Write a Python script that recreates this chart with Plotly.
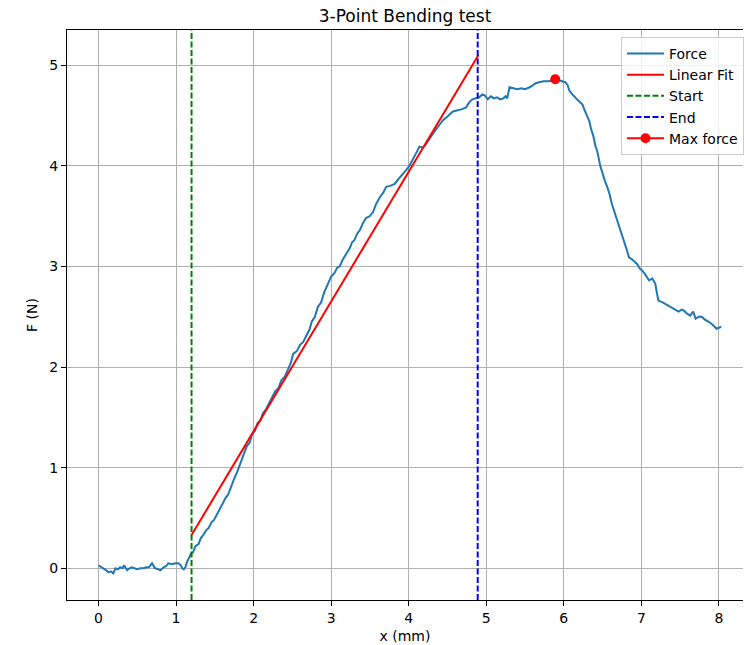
import plotly.graph_objects as go

# ---- data ----
force_x = [0.00, 0.04, 0.07, 0.10, 0.13, 0.16, 0.19, 0.22, 0.25, 0.28, 0.31, 0.33, 0.37, 0.40, 0.43, 0.47,
           0.50, 0.54, 0.58, 0.62, 0.65, 0.69, 0.73, 0.77, 0.80, 0.84, 0.87, 0.90, 0.95, 0.99, 1.03, 1.06,
           1.08, 1.10, 1.12, 1.14, 1.16, 1.19, 1.22, 1.25, 1.29, 1.32, 1.35, 1.39, 1.42, 1.46, 1.49, 1.53,
           1.57, 1.60, 1.64, 1.67, 1.71, 1.75, 1.79, 1.83, 1.87, 1.91, 1.95, 1.98, 2.02, 2.05, 2.09, 2.12,
           2.16, 2.20, 2.25, 2.28, 2.32, 2.36, 2.40, 2.45, 2.48, 2.51, 2.56, 2.60, 2.64, 2.68, 2.72, 2.75,
           2.79, 2.83, 2.87, 2.91, 2.94, 2.97, 3.00, 3.04, 3.08, 3.11, 3.15, 3.20, 3.24, 3.27, 3.30, 3.34,
           3.37, 3.41, 3.45, 3.50, 3.54, 3.58, 3.63, 3.67, 3.71, 3.76, 3.82, 3.87, 3.93, 3.97, 4.01, 4.06,
           4.10, 4.14, 4.18, 4.22, 4.27, 4.31, 4.36, 4.40, 4.44, 4.50, 4.57, 4.62, 4.68, 4.74, 4.78, 4.82,
           4.87, 4.91, 4.95, 4.98, 5.02, 5.06, 5.10, 5.14, 5.18, 5.22, 5.25, 5.27, 5.30, 5.35, 5.40, 5.45,
           5.50, 5.56, 5.60, 5.64, 5.68, 5.74, 5.81, 5.86, 5.89, 5.93, 5.98, 6.02, 6.05, 6.07, 6.10, 6.13,
           6.17, 6.21, 6.24, 6.27, 6.30, 6.33, 6.35, 6.38, 6.41, 6.43, 6.47, 6.50, 6.53, 6.56, 6.59, 6.62,
           6.65, 6.68, 6.71, 6.74, 6.77, 6.81, 6.84, 6.88, 6.92, 6.95, 6.98, 7.01, 7.05, 7.10, 7.14, 7.18,
           7.20, 7.22, 7.28, 7.35, 7.41, 7.48, 7.52, 7.55, 7.59, 7.63, 7.67, 7.70, 7.74, 7.78, 7.82, 7.87,
           7.92, 7.97, 8.00, 8.03]
force_y = [0.03, 0.01, 0.00, -0.02, -0.04, -0.03, -0.05, 0.00, -0.01, 0.01, 0.00, 0.03, -0.02, 0.00, 0.01, 0.00,
           -0.01, 0.00, 0.00, 0.01, 0.01, 0.05, 0.00, -0.01, -0.02, 0.01, 0.02, 0.05, 0.04, 0.05, 0.05, 0.03,
           0.00, -0.01, 0.01, 0.06, 0.10, 0.14, 0.16, 0.22, 0.24, 0.30, 0.33, 0.38, 0.40, 0.46, 0.48, 0.54,
           0.60, 0.64, 0.70, 0.73, 0.82, 0.89, 0.96, 1.05, 1.12, 1.21, 1.25, 1.33, 1.37, 1.44, 1.47, 1.54,
           1.58, 1.64, 1.70, 1.76, 1.79, 1.87, 1.90, 2.00, 2.04, 2.13, 2.16, 2.22, 2.25, 2.31, 2.37, 2.45,
           2.50, 2.60, 2.64, 2.74, 2.80, 2.86, 2.90, 2.93, 2.99, 3.00, 3.07, 3.13, 3.18, 3.24, 3.26, 3.33,
           3.36, 3.43, 3.48, 3.50, 3.54, 3.62, 3.69, 3.73, 3.79, 3.80, 3.82, 3.87, 3.92, 3.96, 4.00, 4.07,
           4.12, 4.19, 4.18, 4.21, 4.27, 4.32, 4.37, 4.41, 4.45, 4.49, 4.54, 4.55, 4.56, 4.58, 4.63, 4.66,
           4.67, 4.68, 4.71, 4.70, 4.66, 4.69, 4.67, 4.68, 4.66, 4.67, 4.69, 4.67, 4.78, 4.77, 4.76, 4.77,
           4.76, 4.78, 4.80, 4.82, 4.83, 4.84, 4.84, 4.85, 4.86, 4.85, 4.84, 4.83, 4.80, 4.75, 4.72, 4.69,
           4.66, 4.63, 4.61, 4.55, 4.50, 4.44, 4.37, 4.30, 4.19, 4.15, 4.00, 3.92, 3.85, 3.79, 3.72, 3.62,
           3.55, 3.48, 3.42, 3.33, 3.26, 3.17, 3.09, 3.07, 3.04, 3.02, 2.98, 2.96, 2.92, 2.86, 2.88, 2.83,
           2.74, 2.66, 2.64, 2.61, 2.58, 2.55, 2.57, 2.56, 2.53, 2.51, 2.55, 2.48, 2.50, 2.50, 2.47, 2.45,
           2.42, 2.38, 2.39, 2.40]

fit_x = [1.2, 4.9]
fit_y = [0.33, 5.10]

start_x = 1.2
end_x = 4.89

max_x = [5.89]
max_y = [4.86]

x_range = [-0.406, 8.311]
y_range = [-0.315, 5.349]
x_ticks = [0, 1, 2, 3, 4, 5, 6, 7, 8]
y_ticks = [0, 1, 2, 3, 4, 5]

FONT = "DejaVu Sans"

fig = go.Figure()
fig.add_trace(go.Scatter(x=force_x, y=force_y, mode="lines", name="Force",
                         line=dict(color="#1f77b4", width=2)))
fig.add_trace(go.Scatter(x=fit_x, y=fit_y, mode="lines", name="Linear Fit",
                         line=dict(color="#ff0000", width=2)))
fig.add_trace(go.Scatter(x=[start_x, start_x], y=y_range, mode="lines", name="Start",
                         line=dict(color="#008000", width=2, dash="6px,2.5px")))
fig.add_trace(go.Scatter(x=[end_x, end_x], y=y_range, mode="lines", name="End",
                         line=dict(color="#0000ff", width=2, dash="6px,2.5px")))
fig.add_trace(go.Scatter(x=max_x, y=max_y, mode="lines+markers", name="Max force",
                         line=dict(color="#ff0000", width=2),
                         marker=dict(color="#ff0000", size=10)))

axis_common = dict(
    showgrid=True, gridcolor="#b0b0b0", gridwidth=1,
    zeroline=False, showline=True, linecolor="black", linewidth=1.2,
    ticks="outside", ticklen=5, tickcolor="black", tickwidth=1,
    tickfont=dict(family=FONT, size=14, color="black"),
)

fig.update_layout(
    width=744, height=645,
    margin=dict(l=67, r=0, t=30, b=45),
    paper_bgcolor="white", plot_bgcolor="white",
    font=dict(family=FONT, size=14, color="black"),
    title=dict(text="3-Point Bending test", x=0.5, xref="paper", xanchor="center",
               y=1 - 16 / 645, yref="container", yanchor="middle",
               font=dict(family=FONT, size=17, color="black")),
    xaxis=dict(range=x_range, tickvals=x_ticks, mirror=True,
               title=dict(text="x (mm)", standoff=6, font=dict(family=FONT, size=14)),
               **axis_common),
    yaxis=dict(range=y_range, tickvals=y_ticks, mirror=False,
               title=dict(text="F (N)", standoff=8, font=dict(family=FONT, size=14)),
               **axis_common),
    legend=dict(x=0.82, y=0.988, xanchor="left", yanchor="top",
                bgcolor="rgba(255,255,255,0.8)", bordercolor="#cccccc", borderwidth=1,
                font=dict(family=FONT, size=14, color="black"),
                itemwidth=37, tracegroupgap=0),
    showlegend=True,
)

fig.write_html("out.html",
               config={"displayModeBar": False},
               post_script="document.body.style.margin='0';document.body.style.padding='0';document.body.style.overflow='hidden';")
